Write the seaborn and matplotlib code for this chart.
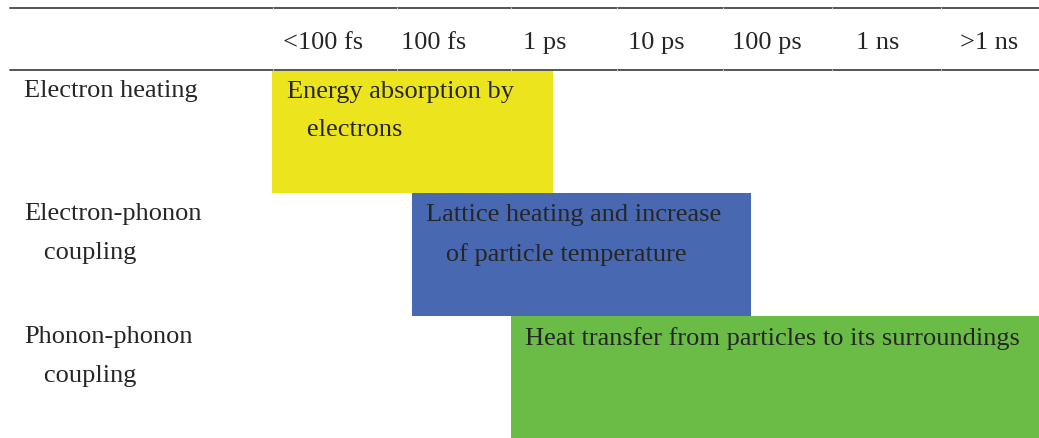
import numpy as np
import matplotlib
matplotlib.use("Agg")
import matplotlib.pyplot as plt
import matplotlib.transforms as mtransforms
import seaborn as sns

# time scale columns (header)
time_labels = ["<100 fs", "100 fs", "1 ps", "10 ps", "100 ps", "1 ns", ">1 ns"]
col_bounds = [-0.45, 0.67, 1.69, 2.65, 3.60, 4.59, 5.57]

# processes (rows) and what happens in each
processes = ["Electron heating", "Electron-phonon\n   coupling", "Phonon-phonon\n   coupling"]
descriptions = [
    "Energy absorption by\n   electrons",
    "Lattice heating and increase\n   of particle temperature",
    "Heat transfer from particles to its surroundings",
]
# start / end of each process on the time axis (column units)
bar_start = [-0.46, 0.80, 1.69]
bar_end = [2.07, 3.86, 6.50]
bar_colors = ["#ECE41C", "#4868B2", "#6ABC46"]

sns.set_theme(style="white")
plt.rcParams["font.family"] = ["Liberation Serif", "DejaVu Serif"]

fig = plt.figure(figsize=(10.39, 4.39), dpi=100)
ax = fig.add_axes([0, 0, 1, 1])

px_per_col = 111.0
x0_px = 323.0
ax.set_xlim(-x0_px / px_per_col, (1039 - x0_px) / px_per_col)
row_px = 123.0
ax.set_ylim(368 / row_px, -71 / row_px)

# process bars
for r, (s, e, c) in enumerate(zip(bar_start, bar_end, bar_colors)):
    ax.barh(r + 0.5, e - s, left=s, height=1.0, color=c, edgecolor="none", zorder=1)

txt_kw = dict(fontsize=19, color="#262626", linespacing=1.97)

# bar descriptions, offset from the top-left corner of each bar
for r, (s, d) in enumerate(zip(bar_start, descriptions)):
    ax.annotate(d, xy=(s, r), xytext=(10.5, -7), textcoords="offset points",
                ha="left", va="top", zorder=3, **txt_kw)

# row labels on the left
blend = mtransforms.blended_transform_factory(ax.transAxes, ax.transData)
for r, p in enumerate(processes):
    ax.text(0.023, r + 0.074, p, transform=blend, ha="left", va="top", zorder=3, **txt_kw)

# header row
for i, t in enumerate(time_labels):
    ax.text(i, -0.225, t, ha="center", va="center", zorder=3, **txt_kw)

# table rules
line_y = [-62 / row_px, 0.0]
for yy in line_y:
    ax.axhline(yy, xmin=0.01, xmax=1.0, color="#555555", lw=1.4, zorder=2)
    ax.vlines(col_bounds, yy - 0.012, yy + 0.012, color="#c8c8c8", lw=0.8, zorder=2)

ax.axis("off")
fig.savefig("out.png", dpi=100)
